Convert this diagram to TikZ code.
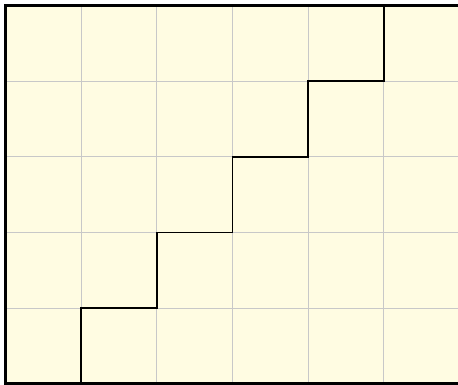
\documentclass[tikz,border=0pt]{standalone}
\usepackage{tikz}
\definecolor{cellyellow}{RGB}{255, 252, 226}
\definecolor{gridgray}{RGB}{200, 200, 200}

\begin{document}
\begin{tikzpicture}[
  x=1cm, y=1cm,
  gridline/.style={draw=gridgray, line width=0.4pt},
  border/.style={draw=black, line width=1.35pt},
  stair/.style={draw=black, line width=0.7pt, line join=miter}
]

  % Area visibile (il bordo destro resta fuori)
  \useasboundingbox (-0.073,-0.015) rectangle (5.98,5.073);
  \clip (-0.073,-0.015) rectangle (5.98,5.073);

  % Sfondo e griglia 6x5
  \fill[cellyellow] (0,0) rectangle (6.2,5);
  \foreach \i in {1,...,5} {
    \draw[gridline] (\i,0) -- (\i,5);
  }
  \foreach \j in {1,...,4} {
    \draw[gridline] (0,\j) -- (6.2,\j);
  }

  % Scalinata
  \draw[stair] (1,0) -- (1,1) -- (2,1) -- (2,2) -- (3,2) -- (3,3)
    -- (4,3) -- (4,4) -- (5,4) -- (5,5);

  % Bordi sinistro, superiore e inferiore
  \draw[border] (6.2,5) -- (0,5) -- (0,0) -- (6.2,0);

\end{tikzpicture}
\end{document}
